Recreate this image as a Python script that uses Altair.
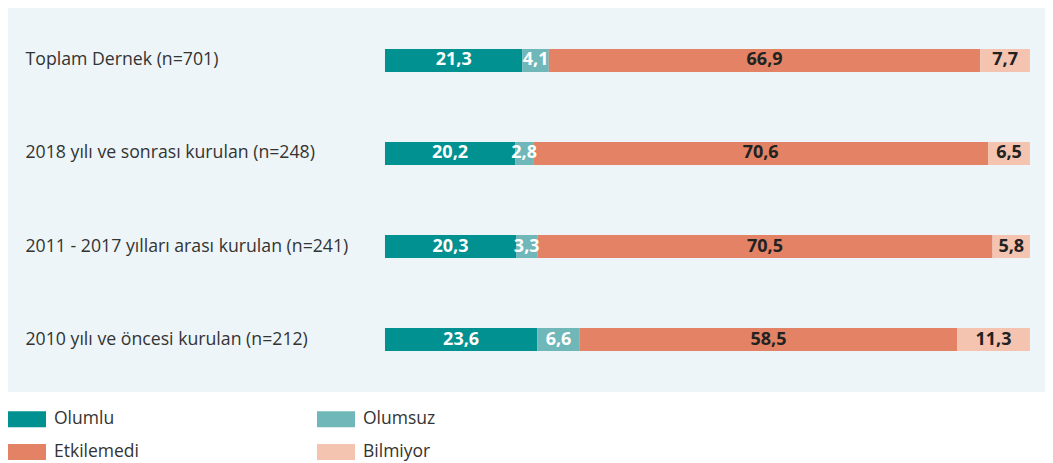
import altair as alt
import pandas as pd

categories = [
    "Toplam Dernek (n=701)",
    "2018 yılı ve sonrası kurulan (n=248)",
    "2011 - 2017 yılları arası kurulan (n=241)",
    "2010 yılı ve öncesi kurulan (n=212)",
]
series = ["Olumlu", "Olumsuz", "Etkilemedi", "Bilmiyor"]
colors = ["#009190", "#6fb7b9", "#e38264", "#f5c4b0"]
olumlu = [21.3, 20.2, 20.3, 23.6]
olumsuz = [4.1, 2.8, 3.3, 6.6]
etkilemedi = [66.9, 70.6, 70.5, 58.5]
bilmiyor = [7.7, 6.5, 5.8, 11.3]

rows = []
for s_i, (s, vals) in enumerate(zip(series, [olumlu, olumsuz, etkilemedi, bilmiyor])):
    for c, v in zip(categories, vals):
        rows.append({"cat": c, "series": s, "ord": s_i, "value": v,
                     "tc": "#ffffff" if s_i < 2 else "#222222"})
df = pd.DataFrame(rows)

W, H = 1037, 384

base = alt.Chart(df).transform_stack(
    stack="value", groupby=["cat"], as_=["v0", "v1"], offset="normalize",
    sort=[alt.SortField("ord", order="ascending")]
).transform_calculate(
    mid="(datum.v0 + datum.v1) / 2",
    label="replace(format(datum.value, '.1f'), '.', ',')"
)

xscale = alt.Scale(domain=[-0.5845, 1.0233], nice=False, zero=False)
yenc = alt.Y("cat:N", sort=categories,
             scale=alt.Scale(paddingInner=0, paddingOuter=0.0645),
             axis=alt.Axis(title=None, ticks=False, tickSize=0, domain=False,
                           labelAlign="left", labelPadding=-17, labelFontSize=17.7,
                           labelColor="#333333", labelFont="Open Sans",
                           labelLimit=400))

bars = base.mark_bar(size=23).encode(
    x=alt.X("v0:Q", scale=xscale, axis=None),
    x2="v1:Q",
    y=yenc,
    color=alt.Color("series:N", sort=series,
                    scale=alt.Scale(domain=series, range=colors),
                    legend=alt.Legend(
                        title=None, orient="none", legendX=0, legendY=392,
                        columns=2, direction="horizontal",
                        symbolType="M-1,-0.42H1V0.42H-1Z", symbolSize=1444,
                        symbolStrokeWidth=0, symbolOpacity=1,
                        labelFontSize=17.5, labelColor="#333333",
                        labelFont="Open Sans", labelOffset=8,
                        columnPadding=178, rowPadding=5,
                    )),
)

texts = base.mark_text(fontSize=18, fontWeight="bold", font="Open Sans",
                       align="center", baseline="middle").encode(
    x=alt.X("mid:Q", scale=xscale, axis=None),
    y=yenc,
    text="label:N",
    color=alt.Color("tc:N", scale=None),
)

chart = alt.layer(bars, texts).properties(
    width=W, height=H, padding=0
).configure(
    font="Open Sans"
).configure_view(
    fill="#edf5f8", stroke="transparent", strokeWidth=0
)

chart.save("out.html", embed_options={"renderer": "svg", "actions": False})
